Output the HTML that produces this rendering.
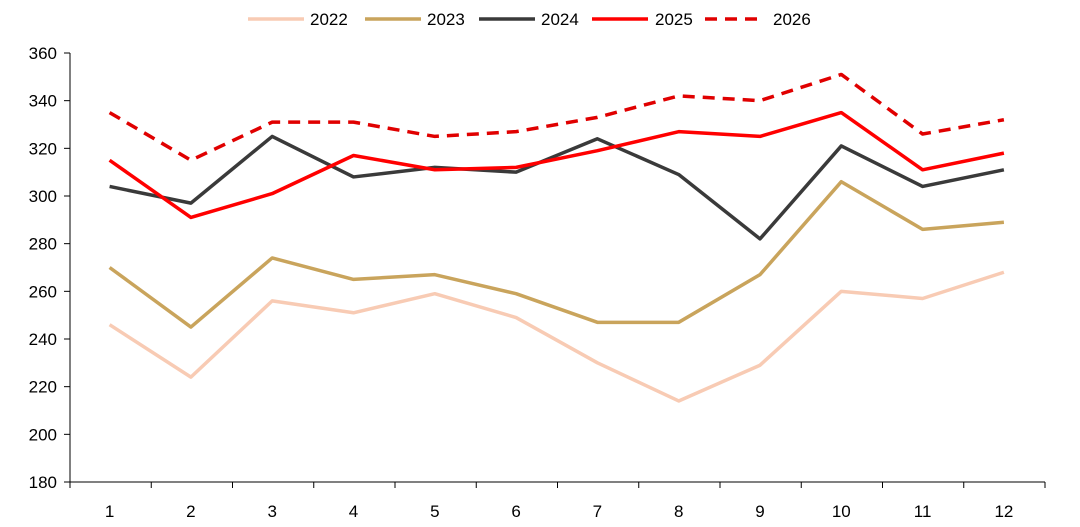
<!DOCTYPE html>
<html><head><meta charset="utf-8"><style>
body{margin:0;background:#fff;}
svg text{font-family:"Liberation Sans",sans-serif;font-size:17px;fill:#000;}
</style></head><body>
<svg id="c" width="1080" height="522" xmlns="http://www.w3.org/2000/svg"></svg>
<script>
const s=document.getElementById('c');let h='';
const Y=v=>53+(360-v)*2.3833, X=i=>109.6+81.3*i;
h+='<line x1="70" y1="53" x2="70" y2="482" stroke="#000" stroke-width="1"/>';
h+='<line x1="70" y1="482" x2="1045" y2="482" stroke="#000" stroke-width="1"/>';
for(let v=180;v<=360;v+=20){const y=Y(v);h+=`<line x1="64" y1="${y}" x2="70" y2="${y}" stroke="#000"/><text x="57" y="${y+6}" text-anchor="end">${v}</text>`;}
for(let i=0;i<=12;i++){const x=70+81.25*i;h+=`<line x1="${x}" y1="482" x2="${x}" y2="488" stroke="#000"/>`;}
for(let i=0;i<12;i++)h+=`<text x="${X(i)}" y="517" text-anchor="middle">${i+1}</text>`;
const S=[
["#f8cbb4","",[246,224,256,251,259,249,230,214,229,260,257,268]],
["#c9a45c","",[270,245,274,265,267,259,247,247,267,306,286,289]],
["#3a3a3a","",[304,297,325,308,312,310,324,309,282,321,304,311]],
["#ff0000","",[315,291,301,317,311,312,319,327,325,335,311,318]],
["#e00000","12,8",[335,315,331,331,325,327,333,342,340,351,326,332]]];
S.forEach(([c,d,a])=>{h+=`<polyline fill="none" stroke="${c}" stroke-width="3.5" stroke-linejoin="round" ${d?`stroke-dasharray="${d}"`:''} points="${a.map((v,i)=>X(i)+','+Y(v)).join(' ')}"/>`;});
const L=[[248,310,"2022"],[365,427,"2023"],[479,541,"2024"],[592,655,"2025"],[705,773,"2026"]];
L.forEach(([x,t,n],k)=>{h+=`<line x1="${x}" y1="19" x2="${x+56}" y2="19" stroke="${S[k][0]}" stroke-width="3.5" ${S[k][1]?`stroke-dasharray="${S[k][1]}"`:''}/><text x="${t}" y="25">${n}</text>`;});
s.innerHTML=h;
</script>
</body></html>
